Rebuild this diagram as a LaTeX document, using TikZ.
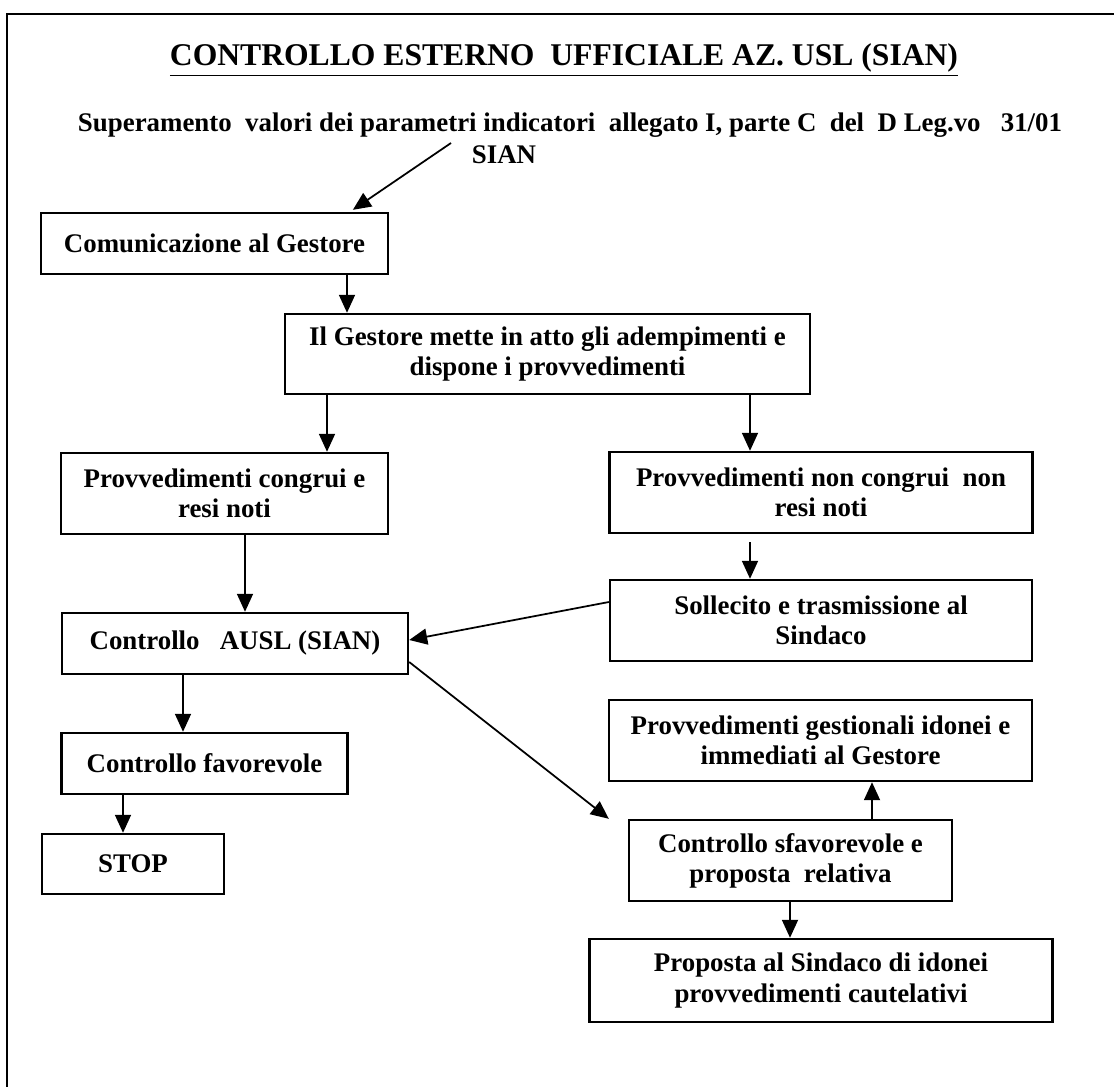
\documentclass[tikz,border=0pt]{standalone}
\usepackage{fontspec}
\setmainfont{Liberation Serif}
\usepackage{tikz}
\usetikzlibrary{arrows.meta,positioning}

\begin{document}
\begin{tikzpicture}[
        x=0.02cm,
        y=-0.02cm,
        font=\bfseries\fontsize{15.3}{17.2}\selectfont,
        frame/.style={line width=1.2pt},
        box/.style={draw, line width=1.4pt, align=center, inner sep=0pt},
        arr/.style={-{Triangle[length=3.6mm,width=3.2mm]}, line width=1pt}
    ]
        \useasboundingbox (0,0) rectangle (1114,1086);
        \draw[frame] (7,1090) -- (7,14) -- (1114,14);

        % titolo e testata
        \node (titolo) at (564,60) {\fontsize{18}{20}\selectfont\underline{CONTROLLO ESTERNO~ UFFICIALE AZ. USL (SIAN)}};
        \node (param) at (570,125) {Superamento~ valori dei parametri indicatori~ allegato I, parte C~ del~ D Leg.vo~~ 31/01};
        \node (sian) at (504,155) {SIAN};
        \coordinate (sianarr) at (451,143);

        % blocchi
        \node[box, minimum width=6.94cm, minimum height=1.22cm] (com) at (214.5,243.5) {Comunicazione al Gestore};
        \node[box, minimum width=10.5cm, minimum height=1.6cm] (gest) at (547.5,354) {Il Gestore mette in atto gli adempimenti e\\ dispone i provvedimenti};
        \node[box, minimum width=6.54cm, minimum height=1.62cm] (congrui) at (224.5,493.5) {Provvedimenti congrui e\\ resi noti};
        \node[box, minimum width=8.46cm, minimum height=1.62cm] (noncongrui) at (821,492.5) {Provvedimenti non congrui~ non\\ resi noti};
        \node[box, minimum width=8.44cm, minimum height=1.62cm] (sollecito) at (821,620.5) {Sollecito e trasmissione al\\ Sindaco};
        \node[box, minimum width=6.92cm, minimum height=1.22cm] (ausl) at (235,643.5) {Controllo~~ AUSL (SIAN)};
        \node[box, minimum width=5.72cm, minimum height=1.22cm] (fav) at (204.5,763.5) {Controllo favorevole};
        \node[box, minimum width=3.64cm, minimum height=1.2cm] (stop) at (133,864) {STOP};
        \node[box, minimum width=8.46cm, minimum height=1.62cm] (gestionali) at (820.5,740.5) {Provvedimenti gestionali idonei e\\ immediati al Gestore};
        \node[box, minimum width=6.46cm, minimum height=1.62cm] (sfav) at (790.5,860.5) {Controllo sfavorevole e\\ proposta~ relativa};
        \node[box, minimum width=9.26cm, minimum height=1.66cm] (proposta) at (821,980.5) {Proposta al Sindaco di idonei\\ provvedimenti cautelativi};

        % frecce
        \draw[arr, shorten >=2pt] (sianarr) -- (350,0 |- com.north);
        \draw[arr] (347,0 |- com.south) -- (347,0 |- gest.north);
        \draw[arr] (327,0 |- gest.south) -- (327,0 |- congrui.north);
        \draw[arr] (750,0 |- gest.south) -- (750,0 |- noncongrui.north);
        \draw[arr] ([yshift=-0.16cm]750,0 |- noncongrui.south) -- (750,0 |- sollecito.north);
        \draw[arr] (245,0 |- congrui.south) -- (245,0 |- ausl.north);
        \draw[arr] ([yshift=0.37cm]sollecito.west) -- ([yshift=0.07cm]ausl.east);
        \draw[arr] ([yshift=-0.37cm]ausl.east) -- ([xshift=-0.38cm]sfav.north west);
        \draw[arr] (183,0 |- ausl.south) -- (183,0 |- fav.north);
        \draw[arr] (123,0 |- fav.south) -- (123,0 |- stop.north);
        \draw[arr] (872,0 |- sfav.north) -- (872,0 |- gestionali.south);
        \draw[arr] (790,0 |- sfav.south) -- (790,0 |- proposta.north);
\end{tikzpicture}
\end{document}
